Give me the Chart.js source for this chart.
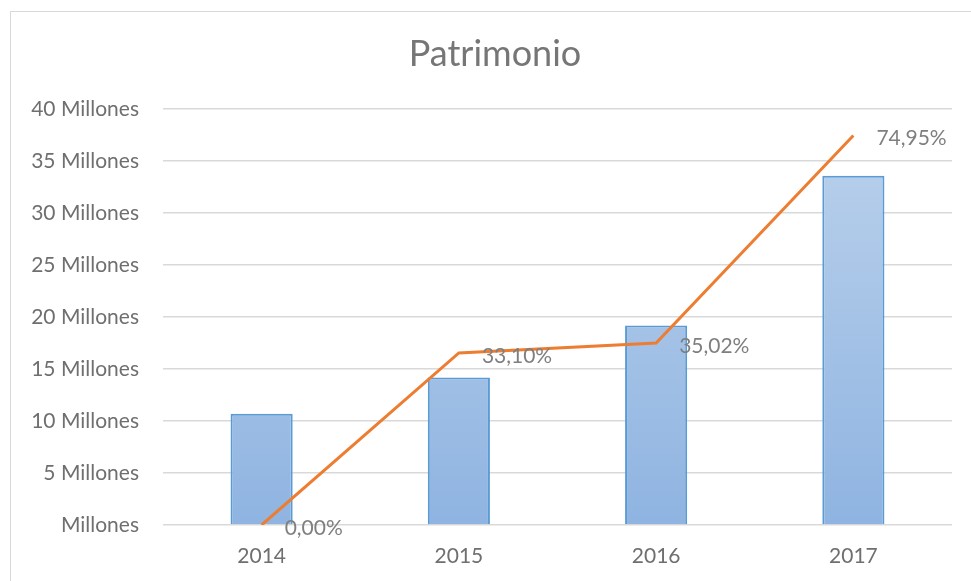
<!DOCTYPE html>
<html>
<head>
<meta charset="utf-8">
<script src="https://cdn.jsdelivr.net/npm/chart.js@4.4.0/dist/chart.umd.min.js"></script>
<style>
  body { margin: 0; background: #fff; overflow: hidden; }
  #box { position: absolute; left: 10px; top: 11px; width: 975px; height: 585px; border: 1px solid #d9d9d9; }
</style>
</head>
<body>
<div id="box"><canvas id="chart" width="975" height="585"></canvas></div>
<script>
// datos
const years = ['2014', '2015', '2016', '2017'];
const patrimonio = [10.7, 14.2, 19.2, 33.6];   // millones
const variacion = [0.00, 33.10, 35.02, 74.95]; // %
const yTicks = [0, 5, 10, 15, 20, 25, 30, 35, 40];

const FONT = 'Lato, "Open Sans", sans-serif';

// etiquetas de porcentaje junto a la linea
const pctLabels = {
  id: 'pctLabels',
  afterLayout(chart) {
    // centrar el titulo un poco mas a la derecha, como en el original
    if (chart.titleBlock) chart.titleBlock.left += 27;
  },
  afterDatasetsDraw(chart) {
    const meta = chart.getDatasetMeta(1);
    const c = chart.ctx;
    c.save();
    c.font = '21px ' + FONT;
    c.fillStyle = '#7f7f7f';
    c.textAlign = 'left';
    c.textBaseline = 'middle';
    meta.data.forEach((pt, i) => {
      c.fillText(variacion[i].toFixed(2).replace('.', ',') + '%', pt.x + 23, pt.y + 3);
    });
    c.restore();
  }
};

const ctx = document.getElementById('chart');

const chart = new Chart(ctx, {
  type: 'bar',
  data: {
    labels: years,
    datasets: [{
      label: 'Patrimonio',
      data: patrimonio,
      backgroundColor: (c) => {
        const a = c.chart.chartArea;
        if (!a) return '#a3c0e6';
        const g = c.chart.ctx.createLinearGradient(0, a.top, 0, a.bottom);
        g.addColorStop(0, '#bcd2ec');
        g.addColorStop(1, '#8fb4e1');
        return g;
      },
      borderColor: '#5b9bd5',
      borderWidth: 2,
      borderSkipped: 'bottom',
      categoryPercentage: 1,
      barPercentage: 0.315,
      yAxisID: 'y',
      order: 2
    }, {
      type: 'line',
      label: 'Variacion',
      data: variacion,
      borderColor: '#ed7d31',
      borderWidth: 3,
      pointRadius: 0,
      tension: 0,
      yAxisID: 'y2',
      order: 1
    }]
  },
  options: {
    responsive: false,
    animation: false,
    layout: { padding: { left: 0, right: 34, top: 0, bottom: 0 } },
    plugins: {
      legend: { display: false },
      tooltip: { enabled: false },
      title: {
        display: true,
        text: 'Patrimonio',
        color: '#767676',
        font: { family: FONT, size: 36, weight: 'normal' },
        padding: { top: 21, bottom: 33 }
      }
    },
    scales: {
      x: {
        grid: { display: false, drawTicks: false },
        border: { display: false },
        ticks: { color: '#6f6f6f', font: { family: FONT, size: 21 }, padding: 19 },
        afterFit: (s) => { s.height = 72; }
      },
      y: {
        min: 0,
        max: 40,
        afterBuildTicks: (s) => { s.ticks = yTicks.map(v => ({ value: v })); },
        grid: { color: '#d9d9d9', lineWidth: 1.5, drawTicks: false },
        border: { display: false },
        ticks: {
          color: '#6f6f6f',
          font: { family: FONT, size: 21 },
          padding: 24,
          callback: (v) => v === 0 ? 'Millones' : v + ' Millones'
        },
        afterFit: (s) => { s.width = 152; }
      },
      y2: {
        display: false,
        min: 0,
        max: 80
      }
    }
  },
  plugins: [pctLabels]
});
</script>
</body>
</html>
